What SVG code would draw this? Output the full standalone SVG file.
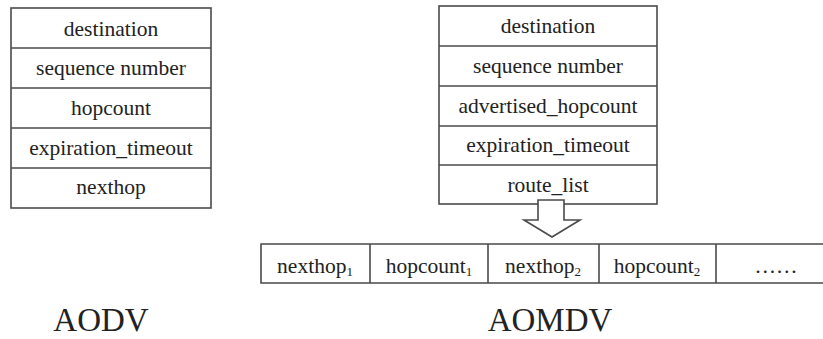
<svg xmlns="http://www.w3.org/2000/svg" width="823" height="339" viewBox="0 0 823 339">
<style>
.box{fill:#fff;stroke:#4a4a4a;stroke-width:1.6}
.ln{stroke:#4a4a4a;stroke-width:1.6;fill:none}
.t{font-family:'Liberation Serif','DejaVu Serif','Times New Roman',serif;font-size:21.5px;fill:#222;text-anchor:middle}
.sub{font-size:13px}
.big{font-family:'Liberation Serif','DejaVu Serif','Times New Roman',serif;font-size:33px;fill:#222;text-anchor:middle}
</style>
<rect width="823" height="339" fill="#fff"/>
<g id="aodv-table">
<rect class="box" x="11" y="8" width="200" height="200"/>
<line class="ln" x1="11" y1="48" x2="211" y2="48"/>
<line class="ln" x1="11" y1="88" x2="211" y2="88"/>
<line class="ln" x1="11" y1="128" x2="211" y2="128"/>
<line class="ln" x1="11" y1="168" x2="211" y2="168"/>
<text class="t" x="111" y="36">destination</text>
<text class="t" x="111" y="75">sequence number</text>
<text class="t" x="111" y="115">hopcount</text>
<text class="t" x="111" y="155">expiration_timeout</text>
<text class="t" x="111" y="194">nexthop</text>
</g>
<g id="aomdv-table">
<rect class="box" x="439" y="6" width="218" height="198"/>
<line class="ln" x1="439" y1="46" x2="657" y2="46"/>
<line class="ln" x1="439" y1="86" x2="657" y2="86"/>
<line class="ln" x1="439" y1="126" x2="657" y2="126"/>
<line class="ln" x1="439" y1="165" x2="657" y2="165"/>
<text class="t" x="548" y="33">destination</text>
<text class="t" x="548" y="73">sequence number</text>
<text class="t" x="548" y="113">advertised_hopcount</text>
<text class="t" x="548" y="152">expiration_timeout</text>
<text class="t" x="548" y="192">route_list</text>
</g>
<g id="connectors">
<path class="box" d="M538,200 H564 V220 H580 L552,237 L524,220 H538 Z"/>
</g>
<g id="route-list">
<path class="ln" d="M826,244 H261 V283 H826"/>
<line class="ln" x1="370" y1="244" x2="370" y2="283"/>
<line class="ln" x1="488" y1="244" x2="488" y2="283"/>
<line class="ln" x1="599" y1="244" x2="599" y2="283"/>
<line class="ln" x1="716" y1="244" x2="716" y2="283"/>
<text class="t" x="315" y="273">nexthop<tspan class="sub" dy="3">1</tspan></text>
<text class="t" x="429" y="273">hopcount<tspan class="sub" dy="3">1</tspan></text>
<text class="t" x="543" y="273">nexthop<tspan class="sub" dy="3">2</tspan></text>
<text class="t" x="657" y="273">hopcount<tspan class="sub" dy="3">2</tspan></text>
<text class="t" x="776" y="273">……</text>
</g>
<g id="labels">
<text class="big" x="101" y="331">AODV</text>
<text class="big" x="550" y="331">AOMDV</text>
</g>
</svg>
